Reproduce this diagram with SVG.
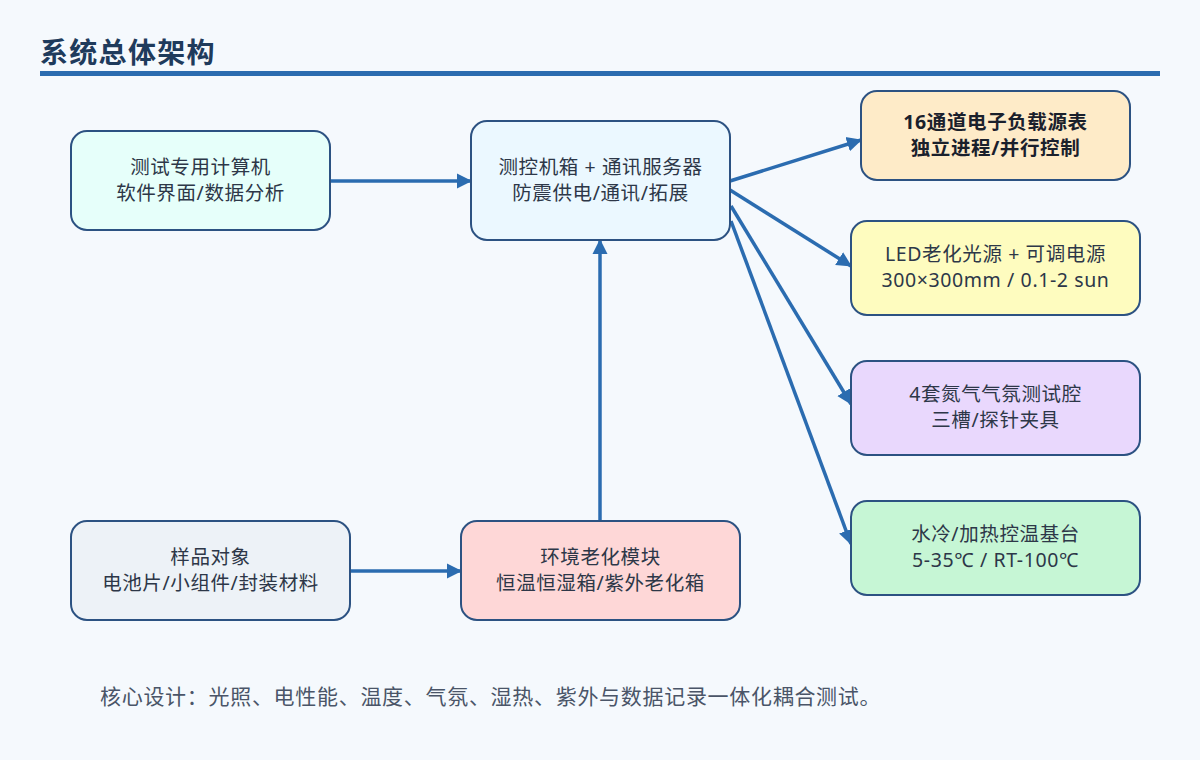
<svg xmlns="http://www.w3.org/2000/svg" width="1200" height="760" viewBox="0 0 1200 760">
<defs>
<style>
.bg{fill:#f5f9fd}
.title{font-family:"Noto Sans CJK SC","Noto Sans",sans-serif;font-size:28px;font-weight:700;fill:#1f3b5c;letter-spacing:1.3px}
.box{stroke:#2c5282;stroke-width:2}
.t{font-family:"Noto Sans","Noto Sans CJK SC",sans-serif;font-size:19.5px;fill:#2d3748;text-anchor:middle;letter-spacing:0.6px}
.b{font-weight:700;fill:#1a202c}
.note{font-family:"Noto Sans","Noto Sans CJK SC",sans-serif;font-size:21px;fill:#4a5568;letter-spacing:0.7px}
.e{stroke:#2b6cb0;stroke-width:3.5;fill:none;marker-end:url(#arr)}
</style>
<marker id="arr" markerUnits="userSpaceOnUse" markerWidth="16" markerHeight="16" refX="14" refY="7.5" orient="auto" viewBox="0 0 16 15">
<path d="M0,0 L15,7.5 L0,15 z" fill="#2b6cb0"/>
</marker>
</defs>
<rect class="bg" x="0" y="0" width="1200" height="760"/>
<text class="title" x="40" y="63">系统总体架构</text>
<rect x="40" y="71" width="1120" height="5" fill="#2b6cb0"/>

<g id="connectors">
<line class="e" x1="330" y1="181" x2="471" y2="181"/>
<line class="e" x1="351" y1="571" x2="461" y2="571"/>
<line class="e" x1="600" y1="521" x2="600" y2="240"/>
<line class="e" x1="730" y1="181" x2="861" y2="140"/>
<line class="e" x1="730" y1="190" x2="851" y2="266"/>
<line class="e" x1="731" y1="206" x2="851" y2="404"/>
<line class="e" x1="731" y1="221" x2="851" y2="544"/>
</g>

<g id="n-computer">
<rect class="box" x="71" y="131" width="259" height="99" rx="16" fill="#e6fffa"/>
<text class="t" x="200.5" y="174">测试专用计算机</text>
<text class="t" x="200.5" y="200">软件界面/数据分析</text>
</g>
<g id="n-hub">
<rect class="box" x="471" y="121" width="259" height="119" rx="16" fill="#ebf8ff"/>
<text class="t" x="600.5" y="174">测控机箱 + 通讯服务器</text>
<text class="t" x="600.5" y="200">防震供电/通讯/拓展</text>
</g>
<g id="n-load">
<rect class="box" x="861" y="91" width="269" height="89" rx="16" fill="#feebc8"/>
<text class="t b" x="995.5" y="129">16通道电子负载源表</text>
<text class="t b" x="995.5" y="155">独立进程/并行控制</text>
</g>
<g id="n-led">
<rect class="box" x="851" y="221" width="289" height="94" rx="16" fill="#fefcbf"/>
<text class="t" x="995.5" y="261">LED老化光源 + 可调电源</text>
<text class="t" x="995.5" y="287">300×300mm / 0.1-2 sun</text>
</g>
<g id="n-chamber">
<rect class="box" x="851" y="361" width="289" height="94" rx="16" fill="#e9d8fd"/>
<text class="t" x="995.5" y="401">4套氮气气氛测试腔</text>
<text class="t" x="995.5" y="427">三槽/探针夹具</text>
</g>
<g id="n-stage">
<rect class="box" x="851" y="501" width="289" height="94" rx="16" fill="#c6f6d5"/>
<text class="t" x="995.5" y="541">水冷/加热控温基台</text>
<text class="t" x="995.5" y="567">5-35℃ / RT-100℃</text>
</g>
<g id="n-sample">
<rect class="box" x="71" y="521" width="279" height="99" rx="16" fill="#edf2f7"/>
<text class="t" x="210.5" y="564">样品对象</text>
<text class="t" x="210.5" y="590">电池片/小组件/封装材料</text>
</g>
<g id="n-aging">
<rect class="box" x="461" y="521" width="279" height="99" rx="16" fill="#fed7d7"/>
<text class="t" x="600.5" y="564">环境老化模块</text>
<text class="t" x="600.5" y="590">恒温恒湿箱/紫外老化箱</text>
</g>
<text class="note" x="100" y="704">核心设计：光照、电性能、温度、气氛、湿热、紫外与数据记录一体化耦合测试。</text>
</svg>
